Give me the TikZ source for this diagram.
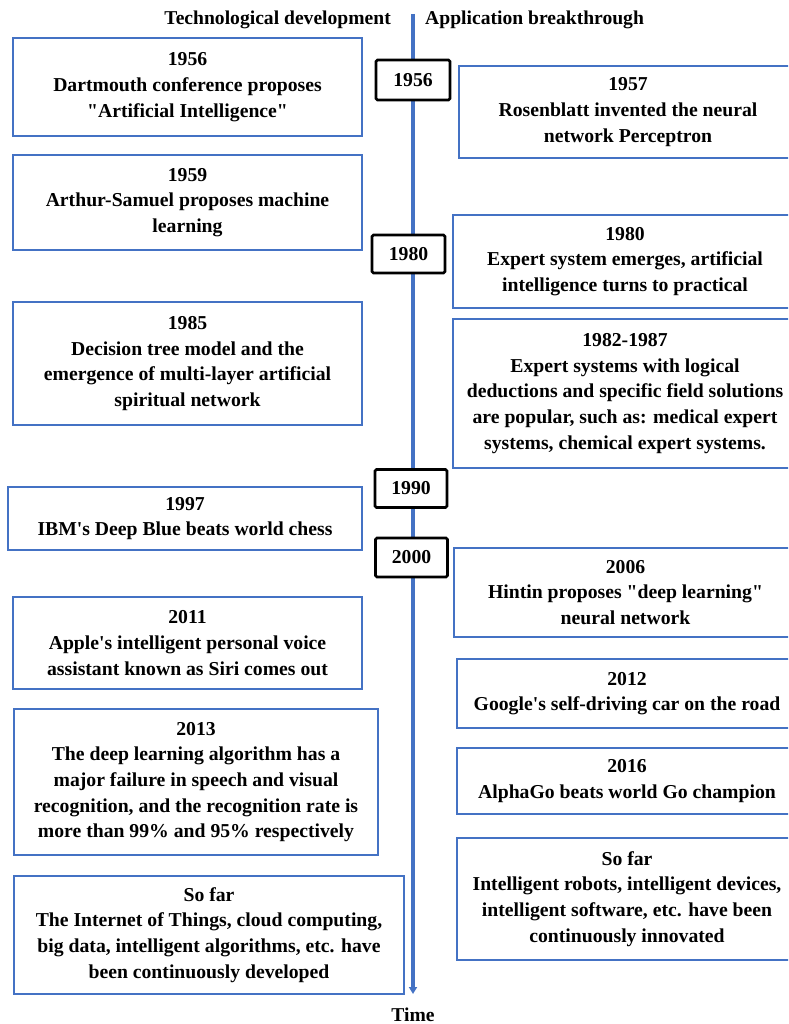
\documentclass[tikz,border=0pt]{standalone}
\usepackage{fontspec}
\setmainfont{Liberation Serif}[Ligatures=TeXOff]
\usetikzlibrary{arrows.meta, positioning}
\definecolor{lineblue}{RGB}{68, 114, 196}

\begin{document}
\begin{tikzpicture}[x=1pt, y=-1pt,
	techbox/.style={draw=lineblue, line width=1.6pt, fill=white, align=center,
		inner sep=2pt, font=\fontsize{19.7}{25.7}\selectfont\bfseries},
	appbox/.style={techbox},
	yearbox/.style={draw=black, line width=2.6pt, fill=white, rounded corners=1.5pt,
		minimum width=72, minimum height=38, font=\fontsize{19.7}{22}\selectfont\bfseries},
	headtxt/.style={font=\fontsize{19.6}{22}\selectfont\bfseries, inner sep=0pt},
	arr/.style={-{Triangle[length=7pt, width=8pt]}, line width=3.6pt, lineblue}
	]
	\path[use as bounding box, clip] (0,0) rectangle (788,1024);

	% axis
	\coordinate (axtop) at (413,14);
	\coordinate (axend) at (413,994);
	\draw[arr] (axtop) -- (axend);
	\node[headtxt, anchor=east] (techhead) at (391,20) {Technological development};
	\node[headtxt, anchor=west] (apphead) at (425,20) {Application breakthrough};
	\node[headtxt, below=14pt of axend] (timelbl) {Time};

	% technological development
	\node[techbox, minimum width=349, minimum height=98] (dartmouth) at (187.5,87)
	{1956\\Dartmouth conference proposes\\"Artificial Intelligence"};
	\node[techbox, minimum width=349, minimum height=95] (samuel) at (187.5,202.5)
	{1959\\Arthur-Samuel proposes machine\\learning};
	\node[techbox, minimum width=349, minimum height=123] (dectree) at (187.5,363.5)
	{1985\\Decision tree model and the\\emergence of multi-layer artificial\\spiritual network};
	\node[techbox, minimum width=354, minimum height=63] (deepblue) at (185,518.5)
	{1997\\IBM's Deep Blue beats world chess};
	\node[techbox, minimum width=349, minimum height=92] (siri) at (187.5,643)
	{2011\\Apple's intelligent personal voice\\assistant known as Siri comes out};
	\node[techbox, minimum width=364, minimum height=146] (deeplearn) at (196,782)
	{2013\\The deep learning algorithm has a\\major failure in speech and visual\\recognition, and the recognition rate is\\more than 99\% and 95\% respectively};
	\node[techbox, minimum width=390, minimum height=118] (techsofar) at (209,935)
	{So far\\The Internet of Things, cloud computing,\\big data, intelligent algorithms, etc. have\\been continuously developed};

	% application breakthrough
	\node[appbox, minimum width=338, minimum height=92] (perceptron) at (628,112)
	{1957\\Rosenblatt invented the neural\\network Perceptron};
	\node[appbox, minimum width=344, minimum height=93] (expert) at (625,261.5)
	{1980\\Expert system emerges, artificial\\intelligence turns to practical};
	\node[appbox, minimum width=344, minimum height=149] (expertpop) at (625,393.5)
	{1982-1987\\Expert systems with logical\\deductions and specific field solutions\\are popular, such as: medical expert\\systems, chemical expert systems.};
	\node[appbox, minimum width=343, minimum height=89] (hinton) at (625.5,592.5)
	{2006\\Hintin proposes "deep learning"\\neural network};
	\node[appbox, minimum width=340, minimum height=69] (selfdrive) at (627,693.5)
	{2012\\Google's self-driving car on the road};
	\node[appbox, minimum width=340, minimum height=66] (alphago) at (627,781)
	{2016\\AlphaGo beats world Go champion};
	\node[appbox, minimum width=340, minimum height=122] (appsofar) at (627,899)
	{So far\\Intelligent robots, intelligent devices,\\intelligent software, etc. have been\\continuously innovated};

	% years on the axis
	\node[yearbox, minimum width=74, minimum height=40] (y1956) at (413,80) {1956};
	\node[yearbox, minimum width=73] (y1980) at (408.5,254) {1980};
	\node[yearbox] (y1990) at (411,488.5) {1990};
	\node[yearbox, minimum height=39] (y2000) at (411.5,557.5) {2000};
\end{tikzpicture}
\end{document}
